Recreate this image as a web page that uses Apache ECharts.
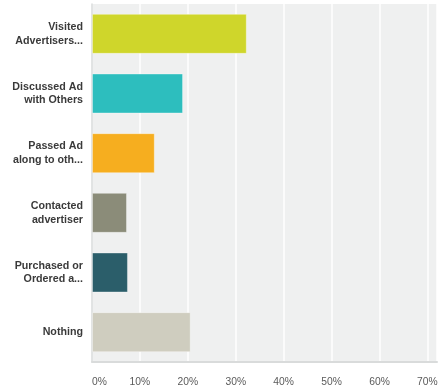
<!DOCTYPE html>
<html>
<head>
<meta charset="utf-8">
<script src="https://cdn.jsdelivr.net/npm/echarts@6/dist/echarts.min.js"></script>
<style>
  html, body { margin: 0; padding: 0; background: #ffffff; }
  #chart { width: 446px; height: 388px; }
</style>
</head>
<body>
<div id="chart"></div>
<script>
// Responses: what people did after seeing the ad (share of respondents, %)
const categories = [
  'Visited\nAdvertisers...',
  'Discussed Ad\nwith Others',
  'Passed Ad\nalong to oth...',
  'Contacted\nadvertiser',
  'Purchased or\nOrdered a...',
  'Nothing'
];
const values = [32.3, 19.0, 13.1, 7.3, 7.5, 20.6];
const barColors = ['#cfd62b', '#2dbebe', '#f6ae1f', '#8b8c79', '#2b5e6a', '#cfcdbf'];
const tickStep = 10;
const axisMax = 72;

const chart = echarts.init(document.getElementById('chart'), null, { renderer: 'canvas' });

chart.setOption({
  animation: false,
  grid: {
    left: 92,
    right: 9,
    top: 4,
    bottom: 26,
    show: true,
    backgroundColor: '#eff0f0',
    borderWidth: 0
  },
  xAxis: {
    type: 'value',
    min: 0,
    max: axisMax,
    interval: tickStep,
    axisLine: { show: true, lineStyle: { color: '#d9dbdb', width: 2 } },
    axisTick: { show: false },
    splitLine: { show: true, lineStyle: { color: '#ffffff', width: 1.5 } },
    axisLabel: {
      margin: 15,
      color: '#5a5a5a',
      fontFamily: 'Liberation Sans, Arial, sans-serif',
      fontSize: 10.3,
      alignMinLabel: 'left',
      formatter: function (v) { return v % tickStep === 0 ? v + '%' : ''; }
    }
  },
  yAxis: {
    type: 'category',
    data: categories,
    inverse: true,
    axisLine: { show: true, lineStyle: { color: '#d9dbdb', width: 1.5 } },
    axisTick: { show: false },
    splitLine: { show: false },
    axisLabel: {
      margin: 9,
      color: '#3a3a3a',
      fontFamily: 'Liberation Sans, Arial, sans-serif',
      fontWeight: 'bold',
      fontSize: 10.7,
      lineHeight: 13.5,
      align: 'right'
    }
  },
  series: [{
    type: 'bar',
    data: values.map(function (v, i) {
      return { value: v, itemStyle: { color: barColors[i] } };
    }),
    barCategoryGap: '33%',
    itemStyle: {
      borderColor: 'rgba(255,255,255,0.35)',
      borderWidth: 1
    },
    label: { show: false }
  }]
});
</script>
</body>
</html>
